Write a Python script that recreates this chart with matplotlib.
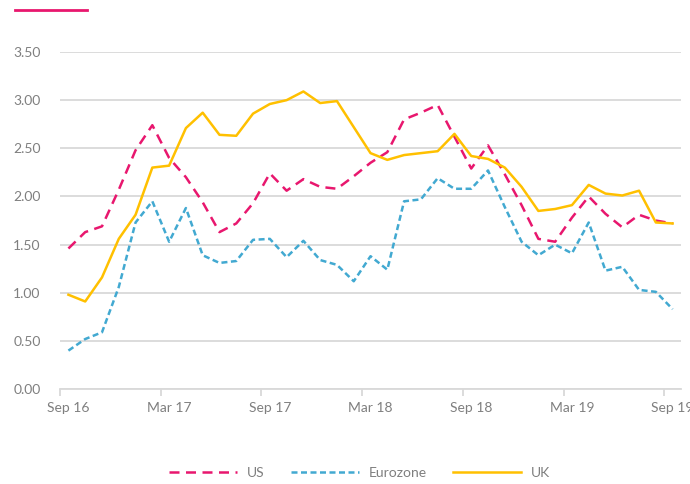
import matplotlib
matplotlib.use('Agg')
import matplotlib.pyplot as plt
from matplotlib.lines import Line2D

# monthly values, Sep 16 .. Sep 19
months = ['Sep 16', 'Oct 16', 'Nov 16', 'Dec 16', 'Jan 17', 'Feb 17',
          'Mar 17', 'Apr 17', 'May 17', 'Jun 17', 'Jul 17', 'Aug 17',
          'Sep 17', 'Oct 17', 'Nov 17', 'Dec 17', 'Jan 18', 'Feb 18',
          'Mar 18', 'Apr 18', 'May 18', 'Jun 18', 'Jul 18', 'Aug 18',
          'Sep 18', 'Oct 18', 'Nov 18', 'Dec 18', 'Jan 19', 'Feb 19',
          'Mar 19', 'Apr 19', 'May 19', 'Jun 19', 'Jul 19', 'Aug 19',
          'Sep 19']

us = [1.46, 1.63, 1.69, 2.07, 2.48, 2.74, 2.40, 2.20, 1.94, 1.63, 1.72, 1.93,
      2.24, 2.06, 2.18, 2.10, 2.08, 2.21, 2.35, 2.46, 2.80, 2.87, 2.95, 2.62,
      2.29, 2.53, 2.23, 1.91, 1.56, 1.53, 1.78, 2.00, 1.82, 1.68, 1.81, 1.75,
      1.72]

eurozone = [0.40, 0.52, 0.59, 1.06, 1.73, 1.95, 1.53, 1.88, 1.39, 1.31, 1.33, 1.55,
            1.56, 1.37, 1.54, 1.34, 1.29, 1.12, 1.38, 1.24, 1.95, 1.97, 2.19, 2.08,
            2.08, 2.27, 1.89, 1.53, 1.39, 1.50, 1.41, 1.73, 1.23, 1.27, 1.03, 1.01,
            0.83]

uk = [0.98, 0.91, 1.16, 1.56, 1.81, 2.30, 2.32, 2.71, 2.87, 2.64, 2.63, 2.86,
      2.96, 3.00, 3.09, 2.97, 2.99, 2.72, 2.45, 2.38, 2.43, 2.45, 2.47, 2.65,
      2.42, 2.39, 2.30, 2.10, 1.85, 1.87, 1.91, 2.12, 2.03, 2.01, 2.06, 1.73,
      1.72]

plt.rcParams['font.family'] = ['Lato', 'DejaVu Sans']
grey = '#7F7F7F'
grid = '#D9D9D9'

fig = plt.figure(figsize=(6.9, 4.84), dpi=100)
ax = fig.add_axes([0.087, 0.196, 0.900, 0.6966])

x = list(range(len(months)))
ax.plot(x, us, color='#E8176E', lw=1.8, dashes=(4.0, 2.6), label='US')
ax.plot(x, eurozone, color='#42A9D1', lw=1.8, dashes=(2.4, 1.4), label='Eurozone')
ax.plot(x, uk, color='#FFC000', lw=1.8, label='UK')

ax.set_xlim(-0.5, len(months) - 0.5)
ax.set_ylim(0, 3.5)
ax.set_yticks([0, 0.5, 1, 1.5, 2, 2.5, 3, 3.5])
ax.set_yticklabels(['%.2f' % v for v in ax.get_yticks()])
ax.yaxis.grid(True, color=grid, lw=1.3)
ax.set_axisbelow(True)

ax.set_xticks(x[::6])
ax.set_xticklabels(months[::6])
ax.set_xticks([i - 0.5 for i in x[::6]], minor=True)
ax.tick_params(axis='x', which='major', length=0, pad=9, labelsize=10, labelcolor=grey)
ax.tick_params(axis='x', which='minor', length=5, color=grid, width=1.3)
ax.tick_params(axis='y', length=0, pad=14, labelsize=10, labelcolor=grey)

for s in ['top', 'right', 'left']:
    ax.spines[s].set_visible(False)
ax.spines['bottom'].set_color(grid)
ax.spines['bottom'].set_linewidth(1.3)

fig.legend(loc='center', bbox_to_anchor=(0.521, 0.023), ncol=3, frameon=False,
           fontsize=10, labelcolor=grey, handlelength=4.9, columnspacing=1.9,
           handletextpad=0.7)

# small accent line at top left
fig.add_artist(Line2D([15 / 690, 87 / 690], [1 - 10 / 484, 1 - 10 / 484],
                      color='#E8176E', lw=2))

fig.savefig('out.png', dpi=100)
